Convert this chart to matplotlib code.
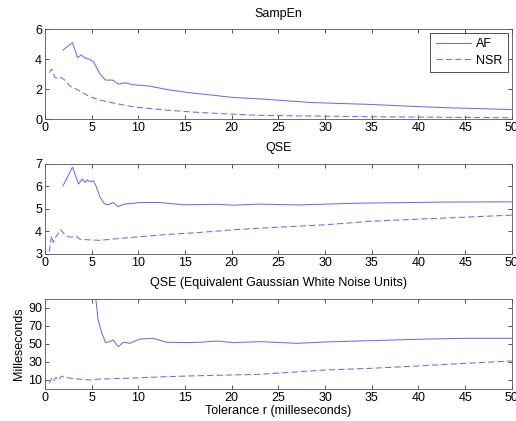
import matplotlib.pyplot as plt
import numpy as np

plt.rcParams['font.family'] = ['Liberation Sans', 'DejaVu Sans']
plt.rcParams['font.size'] = 9

# SampEn
samp_af_x = [1.93, 2.96, 3.5, 3.9, 4.3, 4.8, 5.2, 5.5, 5.9, 6.5, 7.3, 7.85, 8.6, 9.45,
             11.2, 13.0, 15.2, 17.3, 20.2, 23.0, 28.4, 34.8, 39.8, 43.0, 50.0]
samp_af_y = [4.6, 5.09, 4.1, 4.27, 4.07, 3.98, 3.82, 3.49, 3.0, 2.6, 2.6, 2.33, 2.42, 2.29,
             2.2, 1.98, 1.78, 1.64, 1.44, 1.35, 1.11, 0.98, 0.84, 0.76, 0.64]
samp_nsr_x = [0.46, 0.72, 1.07, 1.43, 1.71, 2.14, 2.68, 3.75, 4.8, 5.9, 7.6, 9.45,
              13.0, 16.6, 20.2, 23.0, 35.0, 50.0]
samp_nsr_y = [3.09, 3.33, 2.78, 2.7, 2.78, 2.6, 2.2, 1.87, 1.49, 1.27, 1.04, 0.82,
              0.6, 0.44, 0.33, 0.25, 0.16, 0.09]

# QSE
qse_af_x = [1.93, 2.96, 3.6, 4.0, 4.3, 4.55, 4.8, 5.2, 5.5, 5.9, 6.4, 6.8, 7.3, 7.85,
            8.4, 10.2, 12.3, 14.8, 18.4, 20.2, 23.0, 27.0, 33.5, 43.0, 50.0]
qse_af_y = [6.02, 6.85, 6.1, 6.32, 6.17, 6.29, 6.2, 6.24, 5.99, 5.52, 5.22, 5.18, 5.28, 5.09,
            5.2, 5.28, 5.28, 5.18, 5.2, 5.16, 5.21, 5.17, 5.25, 5.3, 5.31]
qse_nsr_x = [0.46, 0.72, 0.9, 1.2, 1.7, 2.14, 2.68, 3.4, 3.75, 4.8, 5.9, 7.6, 10.2,
             13.0, 16.6, 20.2, 23.0, 30.0, 35.0, 40.0, 45.0, 50.0]
qse_nsr_y = [3.1, 3.8, 3.5, 3.77, 4.07, 3.84, 3.74, 3.77, 3.65, 3.62, 3.6, 3.67, 3.76,
             3.86, 3.95, 4.07, 4.14, 4.29, 4.45, 4.54, 4.63, 4.72]

# QSE in equivalent Gaussian white noise units
gw_af_x = [5.4, 5.7, 6.1, 6.5, 6.95, 7.3, 7.85, 8.4, 9.1, 9.45, 10.2, 11.6, 13.0,
           15.2, 16.6, 18.4, 20.2, 23.0, 27.0, 30.0, 35.0, 40.0, 45.0, 50.0]
gw_af_y = [105, 76.7, 61.9, 51.5, 52.6, 54.4, 47.0, 51.9, 50.7, 52.5, 55.5, 56.3, 51.9,
           51.5, 51.9, 53.3, 51.5, 52.6, 50.7, 52.2, 53.7, 55.2, 56.3, 56.3]
gw_nsr_x = [0.46, 0.72, 0.9, 1.2, 1.4, 1.8, 2.14, 3.0, 4.8, 5.9, 9.45, 13.0, 16.6,
            20.2, 23.0, 30.0, 35.0, 40.0, 45.0, 50.0]
gw_nsr_y = [6.3, 11.9, 8.5, 13.0, 10.0, 14.4, 13.0, 11.5, 10.0, 11.1, 12.2, 13.7, 14.8,
            15.6, 16.3, 21.1, 23.0, 25.6, 28.5, 31.1]

panels = [
    ("SampEn", samp_af_x, samp_af_y, samp_nsr_x, samp_nsr_y, (0, 6), [0, 2, 4, 6]),
    ("QSE", qse_af_x, qse_af_y, qse_nsr_x, qse_nsr_y, (3, 7), [3, 4, 5, 6, 7]),
    ("QSE (Equivalent Gaussian White Noise Units)", gw_af_x, gw_af_y, gw_nsr_x, gw_nsr_y,
     (0, 100), [10, 30, 50, 70, 90]),
]

line_color = '#6a6aff'
bottoms = [0.717, 0.397, 0.076]

fig = plt.figure(figsize=(5.16, 4.21), dpi=100)
for (title, ax_, ay, nx, ny, ylim, yt), b in zip(panels, bottoms):
    ax = fig.add_axes([0.087, b, 0.905, 0.214])
    ax.plot(ax_, ay, color=line_color, lw=0.75, label='AF')
    ax.plot(nx, ny, color=line_color, lw=0.75, ls=(0, (6, 3)), label='NSR')
    ax.set_xlim(0, 50)
    ax.set_ylim(*ylim)
    ax.set_xticks(np.arange(0, 51, 5))
    ax.set_yticks(yt)
    ax.set_title(title, fontsize=9, pad=9)
    ax.tick_params(direction='in', top=True, right=True, length=3, width=0.6,
                   colors='#333333', labelcolor='black', labelsize=9, pad=2)
    for s in ax.spines.values():
        s.set_color('#555555')
        s.set_linewidth(0.6)
    if title == "SampEn":
        leg = ax.legend(loc='upper right', fontsize=9, fancybox=False, framealpha=1,
                        borderpad=0.45, handlelength=2.8, handletextpad=0.4,
                        borderaxespad=0.3, labelspacing=0.35)
        leg.get_frame().set_edgecolor('#333333')
        leg.get_frame().set_linewidth(0.6)
    if b == bottoms[-1]:
        ax.set_ylabel("Milleseconds", labelpad=2)
        ax.set_xlabel("Tolerance r (milleseconds)", labelpad=1)

fig.savefig("out.png", dpi=100)
